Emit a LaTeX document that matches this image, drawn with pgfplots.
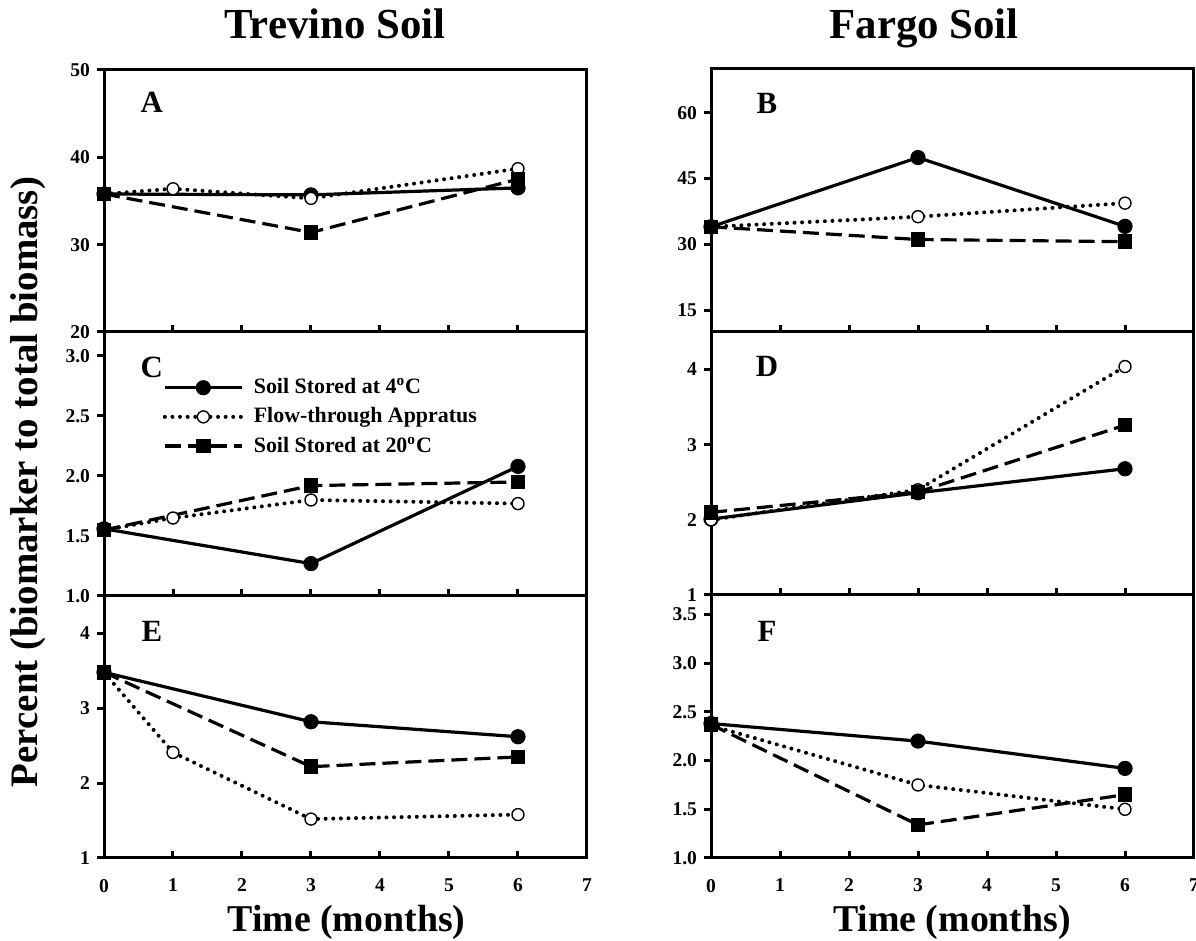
\documentclass[border=0pt]{standalone}
\usepackage{pgfplots}
\pgfplotsset{compat=1.18}
\usepackage{fontspec}
\setmainfont{Liberation Serif}
\tikzset{letter/.style={font=\fontsize{15.5}{16}\selectfont\bfseries}}
\begin{document}
\begin{tikzpicture}[x=1bp,y=1bp]
\useasboundingbox (0bp,0bp) rectangle (598bp,470.5bp);
\pgfplotsset{
 panel/.style={
  scale only axis, width=241.5bp,
  xmin=0, xmax=7, xtick={0,1,...,7},
  axis line style={line width=1.5bp},
  every tick/.style={black, line width=1.5bp},
  major tick length=3.5bp,
  xtick align=inside, ytick align=outside,
  xtick pos=bottom, ytick pos=left,
  tick label style={font=\fontsize{9.8}{10}\selectfont\bfseries},
  /pgf/number format/assume math mode=true,
  xticklabels={},
  clip=false,
  anchor=south west,
 },
 bottomx/.style={xticklabels={0,1,2,3,4,5,6,7}, xticklabel style={yshift=-7bp}},
 onedec/.style={yticklabel style={/pgf/number format/.cd, fixed, fixed zerofill, precision=1}},
 s4/.style={black, line width=1.6bp, mark=*, mark size=3bp, mark options={solid, fill=black}},
 sflow/.style={black, line width=2bp, line cap=round, dash pattern=on 0bp off 3.8bp, mark=*, mark size=3bp, mark options={solid, fill=white, line width=0.7bp}},
 s20/.style={black, line width=1.6bp, dash pattern=on 8bp off 3.5bp, mark=square*, mark size=2.8bp, mark options={solid, fill=black}},
}
% ---------- A ----------
\begin{axis}[panel, at={(52bp,304.5bp)}, height=131bp, ymin=20, ymax=50, ytick={20,30,40,50}]
\addplot[s4] coordinates {(0,35.8) (3,35.7) (6,36.5)};
\addplot[sflow] coordinates {(0,35.8) (1,36.4) (3,35.3) (6,38.7)};
\addplot[s20] coordinates {(0,35.8) (3,31.4) (6,37.5)};
\node[letter] at (rel axis cs:0.099,0.878) {A};
\end{axis}
% ---------- C ----------
\begin{axis}[panel, onedec, at={(52bp,172.5bp)}, height=132bp, ymin=1, ymax=3.2, ytick={1,1.5,2,2.5,3},
  legend style={at={(rel axis cs:0.121,0.84)}, anchor=north west, draw=none, fill=none, inner sep=0pt,
    row sep=1.5bp, font=\fontsize{11}{12}\selectfont\bfseries, legend cell align=left,
    /tikz/every odd column/.append style={column sep=3bp}},
  legend image code/.code={\draw[mark repeat=2,mark phase=2] plot coordinates {(0bp,0bp) (19.25bp,0bp) (38.5bp,0bp)};}]
\addplot[s4] coordinates {(0,1.56) (3,1.27) (6,2.08)};
\addplot[sflow] coordinates {(0,1.55) (1,1.65) (3,1.80) (6,1.77)};
\addplot[s20] coordinates {(0,1.55) (3,1.92) (6,1.95)};
\legend{Soil Stored at 4\textsuperscript{o}C, Flow-through Appratus, Soil Stored at 20\textsuperscript{o}C}
\node[letter] at (rel axis cs:0.099,0.864) {C};
\end{axis}
% ---------- E ----------
\begin{axis}[panel, bottomx, at={(52bp,41.5bp)}, height=131bp, ymin=1, ymax=4.5, ytick={1,2,3,4}]
\addplot[s4] coordinates {(0,3.48) (3,2.82) (6,2.62)};
\addplot[sflow] coordinates {(0,3.48) (1,2.41) (3,1.52) (6,1.58)};
\addplot[s20] coordinates {(0,3.48) (3,2.22) (6,2.35)};
\node[letter] at (rel axis cs:0.099,0.863) {E};
\end{axis}
% ---------- B ----------
\begin{axis}[panel, at={(355.5bp,304.5bp)}, height=131.5bp, ymin=10, ymax=70, ytick={15,30,45,60}]
\addplot[s4] coordinates {(0,34.0) (3,49.8) (6,34.1)};
\addplot[sflow] coordinates {(0,34.0) (3,36.3) (6,39.4)};
\addplot[s20] coordinates {(0,34.0) (3,31.1) (6,30.6)};
\node[letter] at (rel axis cs:0.116,0.87) {B};
\end{axis}
% ---------- D ----------
\begin{axis}[panel, at={(355.5bp,173bp)}, height=131.5bp, ymin=1, ymax=4.5, ytick={1,2,3,4}]
\addplot[s4] coordinates {(0,2.01) (3,2.36) (6,2.68)};
\addplot[sflow] coordinates {(0,2.0) (3,2.40) (6,4.04)};
\addplot[s20] coordinates {(0,2.10) (3,2.37) (6,3.26)};
\node[letter] at (rel axis cs:0.116,0.87) {D};
\end{axis}
% ---------- F ----------
\begin{axis}[panel, bottomx, onedec, at={(355.5bp,41.5bp)}, height=131.5bp, ymin=1, ymax=3.7, ytick={1,1.5,2,2.5,3,3.5}]
\addplot[s4] coordinates {(0,2.38) (3,2.20) (6,1.92)};
\addplot[sflow] coordinates {(0,2.36) (3,1.75) (6,1.50)};
\addplot[s20] coordinates {(0,2.37) (3,1.34) (6,1.65)};
\node[letter] at (rel axis cs:0.116,0.86) {F};
\end{axis}
% ---------- labels ----------
\node[anchor=base, font=\fontsize{21.5}{22}\selectfont\bfseries] at (167.5bp,451bp) {Trevino Soil};
\node[anchor=base, font=\fontsize{21.5}{22}\selectfont\bfseries] at (462bp,451bp) {Fargo Soil};
\node[anchor=base, font=\fontsize{19}{20}\selectfont\bfseries] at (173.25bp,5bp) {Time (months)};
\node[anchor=base, font=\fontsize{19}{20}\selectfont\bfseries] at (476bp,5bp) {Time (months)};
\node[rotate=90, font=\fontsize{19.5}{20}\selectfont\bfseries] at (14bp,229.5bp) {Percent (biomarker to total biomass)};
\end{tikzpicture}
\end{document}
